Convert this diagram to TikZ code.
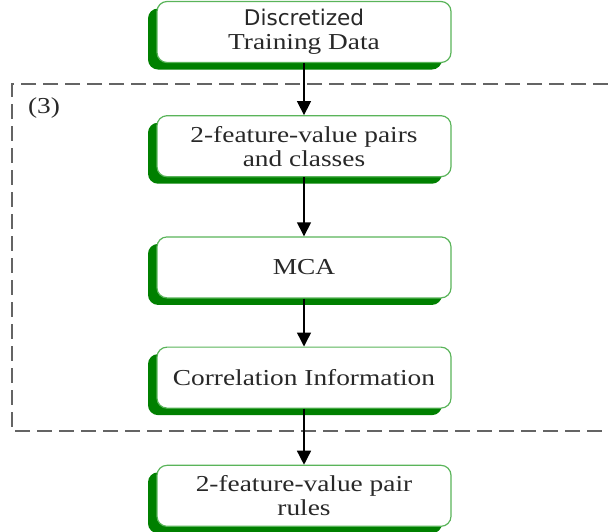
\documentclass[tikz,border=0pt]{standalone}
\usepackage{fontspec}
\setmainfont{Liberation Serif}[FakeStretch=1.2]
\newfontfamily\discfont{DejaVu Sans}
\usetikzlibrary{arrows.meta, positioning, shadows}
\definecolor{boxgreen}{RGB}{0,128,0}
\definecolor{edgegreen}{RGB}{90,180,90}
\definecolor{framegray}{RGB}{100,100,100}
\definecolor{textgray}{RGB}{40,40,40}
\tikzset{
  stepbox/.style={
    rectangle, rounded corners=5pt, minimum width=147pt, minimum height=30.5pt,
    draw=edgegreen, line width=0.6pt, fill=white, align=center,
    font=\fontsize{11.4}{12}\selectfont, text=textgray,
    drop shadow={shadow xshift=-4.5pt, shadow yshift=-3.5pt, fill=boxgreen, opacity=1}
  },
  arrow/.style={-{Triangle[length=7pt, width=7pt]}, line width=0.7pt, color=black},
  framebox/.style={dash pattern=on 7.5pt off 3.5pt, line width=1pt, color=framegray}
}

\begin{document}
\begin{tikzpicture}
  \useasboundingbox (0,0) rectangle (304pt,-265.5pt);

  % dashed frame of stage (3), open on the right
  \coordinate (ftr) at (304pt,-42pt);
  \coordinate (ftl) at (6pt,-42pt);
  \coordinate (fbl) at (6pt,-215.5pt);
  \coordinate (fbr) at (304pt,-215.5pt);
  \draw[framebox] (ftr) -- (ftl) -- (fbl) -- (fbr);
  \node[font=\fontsize{11.4}{12}\selectfont, text=textgray] (stage) at (22pt,-54pt) {(3)};

  \node[stepbox] (data) at (152pt,-16pt)
    {{\discfont\fontsize{10.8}{12}\selectfont Discretized}\\Training Data};
  \node[stepbox, below=26pt of data]   (pairs) {2-feature-value pairs\\and classes};
  \node[stepbox, below=29.5pt of pairs] (mca)  {MCA};
  \node[stepbox, below=24pt of mca]    (corr)  {Correlation Information};
  \node[stepbox, below=28pt of corr]   (rules) {2-feature-value pair\\rules};

  \draw[arrow] (data) -- (pairs);
  \draw[arrow] (pairs) -- (mca);
  \draw[arrow] (mca) -- (corr);
  \draw[arrow] (corr) -- (rules);
\end{tikzpicture}
\end{document}
